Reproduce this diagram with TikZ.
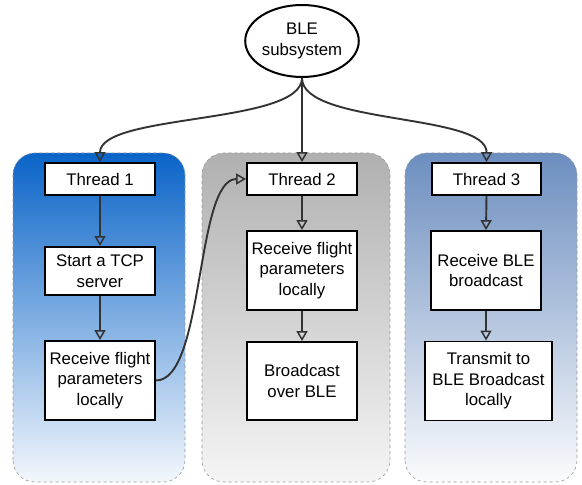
\documentclass[tikz,border=0pt]{standalone}
\usepackage{fontspec}
\setmainfont{Liberation Sans}
\usetikzlibrary{arrows.meta,shapes.geometric}
\definecolor{lineg}{HTML}{333333}
\definecolor{cblue}{HTML}{0A64C8}
\definecolor{cgray}{HTML}{B0B0B0}
\definecolor{cblue2}{HTML}{6C8EBF}
\begin{document}
\begin{tikzpicture}[x=1pt,y=1pt,
  font=\fontsize{16.8}{20.5}\selectfont,
  box/.style={draw=black,line width=1.8pt,fill=white,align=center,inner sep=0pt},
  cont/.style={draw=gray!80,dashed,line width=0.6pt,rounded corners=22pt},
  conn/.style={draw=lineg,line width=1.9pt,-{Triangle[open,width=11pt,length=10pt,line width=1.5pt]}}]
\useasboundingbox (0,0) rectangle (582,485);
% containers
\path[cont,top color=cblue,bottom color=white!95!cblue] (13,3) rectangle (185,332);
\path[cont,top color=cgray,bottom color=white!96!black] (202,3) rectangle (390,332);
\path[cont,top color=cblue2,bottom color=white!97!cblue2] (405,3) rectangle (577,332);
% root
\node[ellipse,draw=black,line width=2pt,fill=white,minimum width=88pt,minimum height=72pt,inner sep=0pt,align=center] (ble) at (302,444) {BLE\\subsystem};
% column 1
\node[box,minimum width=110pt,minimum height=32pt] (t1) at (100,306) {Thread 1};
\node[box,minimum width=110pt,minimum height=48pt] (tcp) at (100,214) {Start a TCP\\server};
\node[box,minimum width=110pt,minimum height=79pt] (rf1) at (100,104.5) {Receive flight\\parameters\\locally};
% column 2
\node[box,minimum width=110pt,minimum height=32pt] (t2) at (302,306) {Thread 2};
\node[box,minimum width=110pt,minimum height=79pt] (rf2) at (302,214.5) {Receive flight\\parameters\\locally};
\node[box,minimum width=110pt,minimum height=78pt] (bc) at (302,104) {Broadcast\\over BLE};
% column 3
\node[box,minimum width=109pt,minimum height=32pt] (t3) at (486.5,306) {Thread 3};
\node[box,minimum width=110pt,minimum height=79pt] (rb) at (486,214.5) {Receive BLE\\broadcast};
\node[box,minimum width=127pt,minimum height=79pt] (tx) at (488.5,104) {Transmit to\\BLE Broadcast\\locally};
% connectors from root
\draw[conn] (ble.south) .. controls (302,360) and (100,372) .. (t1.north);
\draw[conn] (ble.south) -- (t2.north);
\draw[conn] (ble.south) .. controls (302,360) and (487,372) .. (t3.north);
% column arrows
\draw[conn] (t1.south) -- (tcp.north);
\draw[conn] (tcp.south) -- (rf1.north);
\draw[conn] (t2.south) -- (rf2.north);
\draw[conn] (rf2.south) -- (bc.north);
\draw[conn] (t3.south) -- (rb.north);
\draw[conn] (rb.south) -- (tx.north -| rb.south);
% cross link
\draw[conn] (rf1.east) .. controls (205,104.5) and (195,306) .. (t2.west);
\end{tikzpicture}
\end{document}
